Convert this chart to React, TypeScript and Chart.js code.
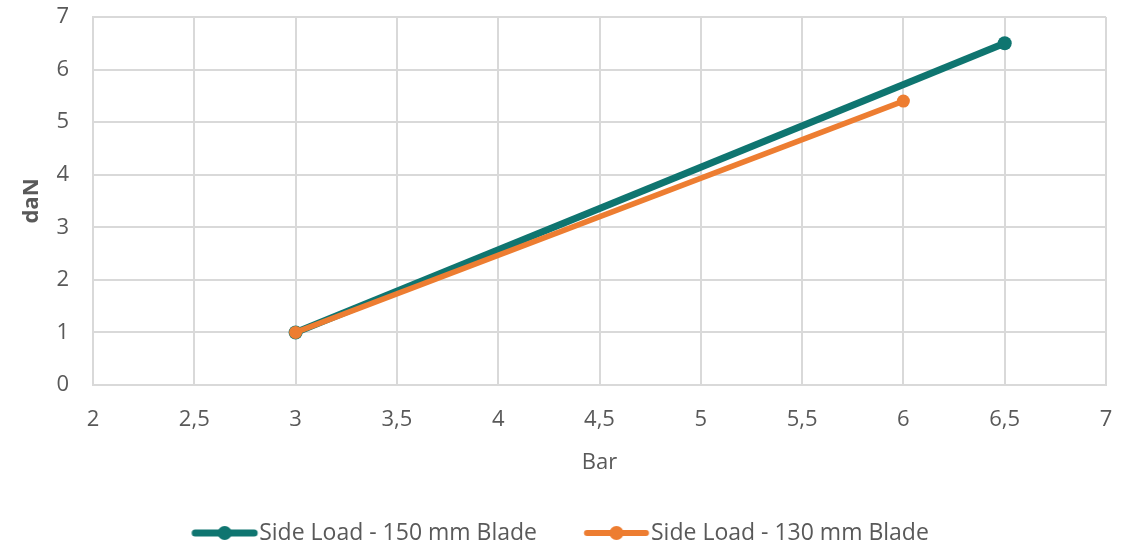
import React, { useEffect, useRef } from "react";
import { Chart, registerables } from "chart.js";

Chart.register(...registerables);

const seriesNames = ["Side Load - 150 mm Blade", "Side Load - 130 mm Blade"];
const pressure150 = [3, 6.5];
const load150 = [1, 6.5];
const pressure130 = [3, 6];
const load130 = [1, 5.4];
const seriesColors = ["#0f7570", "#ed7d31"];
const xTitle = "Bar";
const yTitle = "daN";

const FONT = "'Open Sans', 'Noto Sans', sans-serif";
const TEXT = "#595959";
const GRID = "#d9d9d9";

const LEG_FS = 23;
const LEG_PAD = 4;
const MARK_LEN = 65;
const BOX_W = 114 - LEG_PAD - LEG_FS / 2;

function makeMarker(color: string, lw: number): HTMLCanvasElement {
  // marker centred at BOX_W/2 of item; visible part ends 2px before the text
  const markEnd = BOX_W + LEG_FS / 2 - 2;
  const markStart = markEnd - MARK_LEN;
  const half = Math.ceil(Math.max(markEnd - BOX_W / 2, BOX_W / 2 - markStart)) + 2;
  const c = document.createElement("canvas");
  c.width = half * 2;
  c.height = 18;
  const ctx = c.getContext("2d")!;
  const ox = half - BOX_W / 2;
  ctx.strokeStyle = color;
  ctx.lineWidth = lw;
  ctx.lineCap = "round";
  ctx.beginPath();
  ctx.moveTo(ox + markStart + 3, 9);
  ctx.lineTo(ox + markEnd - 3, 9);
  ctx.stroke();
  ctx.fillStyle = color;
  ctx.beginPath();
  ctx.arc(ox + (markStart + markEnd) / 2, 9, 7, 0, Math.PI * 2);
  ctx.fill();
  return c;
}

const legendShift = {
  id: "legendShift",
  afterLayout(chart: any) {
    const lg = chart.legend;
    if (!lg) return;
    lg.left -= 14;
    lg.right -= 14;
    lg.top += 8.5;
    lg.bottom += 8.5;
  },
};

export default function App() {
  const ref = useRef<HTMLCanvasElement | null>(null);

  useEffect(() => {
    if (!ref.current) return;
    const markers = [makeMarker(seriesColors[0], 7), makeMarker(seriesColors[1], 6)];
    const chart = new Chart(ref.current, {
      type: "line",
      data: {
        datasets: [
          {
            label: seriesNames[0],
            data: pressure150.map((x, i) => ({ x, y: load150[i] })),
            borderColor: seriesColors[0],
            backgroundColor: seriesColors[0],
            borderWidth: 7,
            pointRadius: 7,
            pointBorderWidth: 0,
            order: 1,
          },
          {
            label: seriesNames[1],
            data: pressure130.map((x, i) => ({ x, y: load130[i] })),
            borderColor: seriesColors[1],
            backgroundColor: seriesColors[1],
            borderWidth: 5.5,
            pointRadius: 6.5,
            pointBorderWidth: 0,
            order: 0,
          },
        ],
      },
      plugins: [legendShift],
      options: {
        animation: false,
        responsive: false,
        maintainAspectRatio: false,
        layout: { padding: { left: 0, top: 0, right: 29, bottom: 0 } },
        scales: {
          x: {
            type: "linear",
            min: 2,
            max: 7,
            ticks: {
              stepSize: 0.5,
              color: TEXT,
              font: { family: FONT, size: 22 },
              padding: 22,
              callback: (v: any) => String(v).replace(".", ","),
            },
            grid: { color: GRID, lineWidth: 2, drawTicks: false },
            border: { color: GRID, width: 2 },
            title: {
              display: true,
              text: xTitle,
              color: TEXT,
              font: { family: FONT, size: 22 },
              padding: { top: 0, bottom: 33 },
            },
            afterFit: (s: any) => {
              s.height = 124;
            },
          },
          y: {
            type: "linear",
            min: 0,
            max: 7,
            ticks: {
              stepSize: 1,
              color: TEXT,
              font: { family: FONT, size: 22 },
              padding: 24,
            },
            grid: { color: GRID, lineWidth: 2, drawTicks: false },
            border: { color: GRID, width: 2 },
            title: {
              display: true,
              text: yTitle,
              color: TEXT,
              font: { family: FONT, size: 22, weight: "bold" },
              padding: { top: 19, bottom: 0 },
            },
            afterFit: (s: any) => {
              s.width = 93;
              s.paddingTop = 17;
              s.paddingBottom = 0;
            },
          },
        },
        plugins: {
          tooltip: { enabled: false },
          legend: {
            position: "bottom",
            labels: {
              color: TEXT,
              font: { family: FONT, size: LEG_FS },
              usePointStyle: true,
              pointStyleWidth: BOX_W,
              padding: LEG_PAD,
              generateLabels: (ch: any) =>
                ch.data.datasets.map((d: any, i: number) => ({
                  text: d.label,
                  pointStyle: markers[i],
                  fillStyle: seriesColors[i],
                  strokeStyle: seriesColors[i],
                  lineWidth: 0,
                  fontColor: TEXT,
                  hidden: false,
                  datasetIndex: i,
                })),
            },
          },
        },
      },
    });
    return () => chart.destroy();
  }, []);

  return (
    <div style={{ position: "fixed", left: 0, top: 0, width: 1135, height: 546, background: "#fff" }}>
      <canvas ref={ref} width={1135} height={546} style={{ width: 1135, height: 546 }} />
    </div>
  );
}
